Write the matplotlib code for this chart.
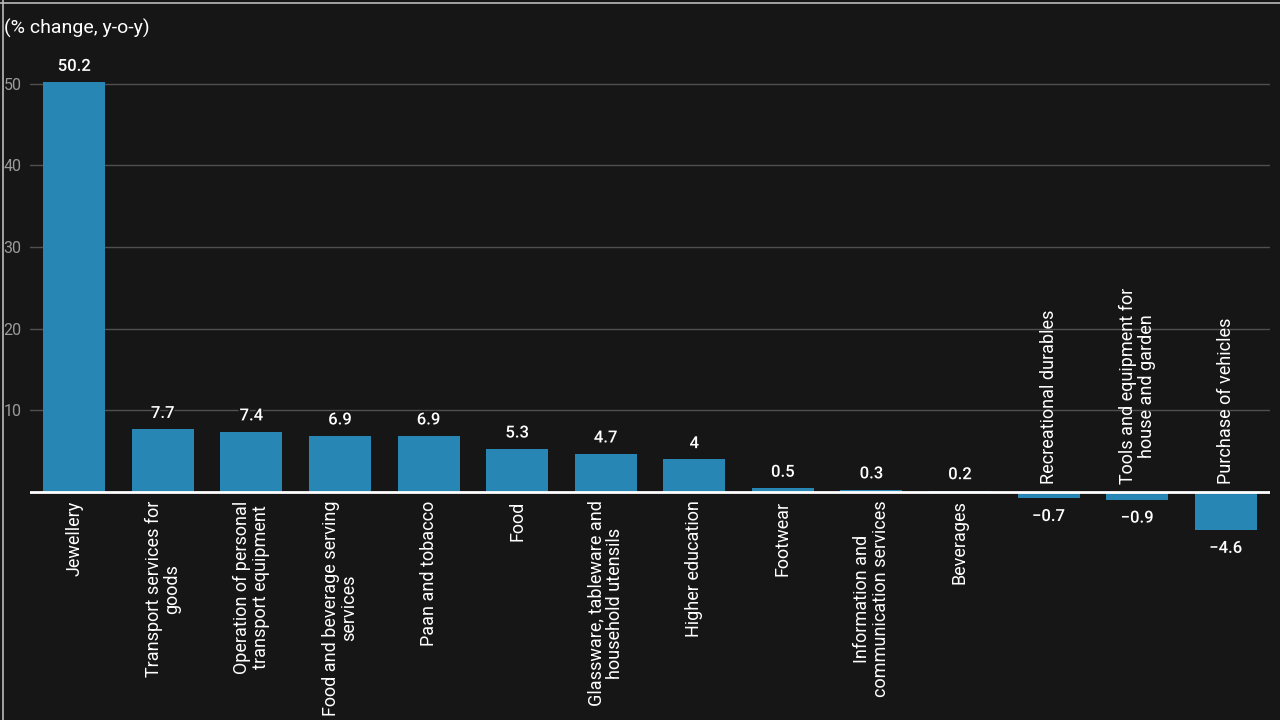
import matplotlib.pyplot as plt
import matplotlib.patheffects as pe

# Data
categories = [
    "Jewellery",
    "Transport services for\ngoods",
    "Operation of personal\ntransport equipment",
    "Food and beverage serving\nservices",
    "Paan and tobacco",
    "Food",
    "Glassware, tableware and\nhousehold utensils",
    "Higher education",
    "Footwear",
    "Information and\ncommunication services",
    "Beverages",
    "Recreational durables",
    "Tools and equipment for\nhouse and garden",
    "Purchase of vehicles",
]
values = [50.2, 7.7, 7.4, 6.9, 6.9, 5.3, 4.7, 4.0, 0.5, 0.3, 0.2, -0.7, -0.9, -4.6]
value_labels = ["50.2", "7.7", "7.4", "6.9", "6.9", "5.3", "4.7", "4", "0.5", "0.3", "0.2",
                "\u22120.7", "\u22120.9", "\u22124.6"]
yticks = [10, 20, 30, 40, 50]

bg = "#161616"
bar_color = "#2886b5"

plt.rcParams['font.family'] = ['Roboto', 'DejaVu Sans']

fig = plt.figure(figsize=(12.8, 7.2), dpi=100, facecolor=bg)
ax = fig.add_axes([30 / 1280, 0, 1240 / 1280, 677 / 720], facecolor=bg)

x = list(range(len(values)))
ax.bar(x, values, width=0.7, color=bar_color, zorder=2)

ax.set_xlim(-0.5, len(values) - 0.5)
ax.set_ylim(-27.9, 55)

for s in ax.spines.values():
    s.set_visible(False)

ax.set_xticks([])
ax.set_yticks(yticks)
ax.set_yticklabels([str(t) for t in yticks], color="#9a9a9a", fontsize=11.5)
ax.tick_params(axis='y', length=0, pad=6)
ax.grid(axis='y', color="#505050", linewidth=1, zorder=0)
ax.axhline(0, color="white", linewidth=2, zorder=3)

stroke = [pe.withStroke(linewidth=2.5, foreground=bg)]
for i, (v, lab, cat) in enumerate(zip(values, value_labels, categories)):
    if v >= 0:
        ax.annotate(lab, (i, v), xytext=(0, 6), textcoords='offset points',
                    ha='center', va='bottom', color='white', fontsize=12,
                    fontweight='medium', path_effects=stroke, zorder=4)
        ax.annotate(cat, (i, 0), xytext=(0, -6), textcoords='offset points',
                    ha='center', va='top', rotation=90, multialignment='center',
                    linespacing=1.05, color='white', fontsize=13, zorder=4)
    else:
        ax.annotate(lab, (i, v), xytext=(0, -8), textcoords='offset points',
                    ha='center', va='top', color='white', fontsize=12,
                    fontweight='medium', path_effects=stroke, zorder=4)
        ax.annotate(cat, (i, 0), xytext=(0, 6), textcoords='offset points',
                    ha='center', va='bottom', rotation=90, multialignment='center',
                    linespacing=1.05, color='white', fontsize=13, zorder=4)

fig.text(4 / 1280, 1 - 28 / 720, "(% change, y-o-y)", color='white', fontsize=14,
         ha='left', va='center')

# thin light frame on top and left edge
fig.add_artist(plt.Line2D([2.5 / 1280, 2.5 / 1280], [0, 1], color="#bbbbbb", linewidth=1.2))
fig.add_artist(plt.Line2D([0, 1], [1 - 2.5 / 720, 1 - 2.5 / 720], color="#bbbbbb", linewidth=1.2))

fig.savefig("out.png", dpi=100, facecolor=bg)
